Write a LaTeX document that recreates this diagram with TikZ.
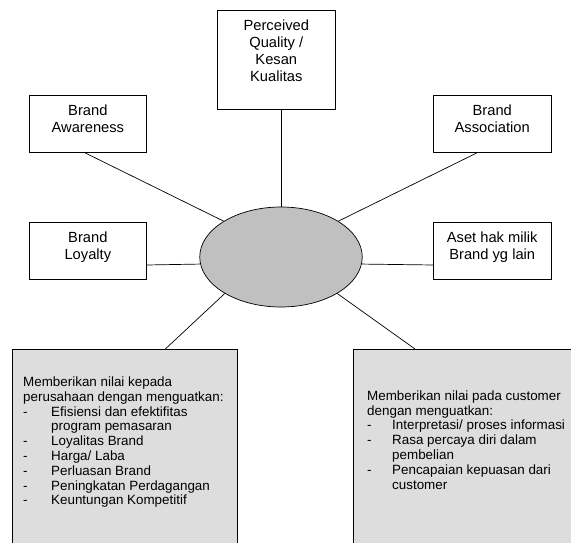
\documentclass[tikz,border=0pt]{standalone}
\usepackage{fontspec}
\setmainfont{Liberation Sans}
\usetikzlibrary{shapes.geometric}
\definecolor{panelgray}{HTML}{DDDDDD}
\definecolor{ellgray}{HTML}{C0C0C0}
\begin{document}
\begin{tikzpicture}[x=1pt,y=1pt,
  box/.style={draw, line width=0.7pt, fill=white, inner sep=0pt, minimum width=117.5pt, minimum height=57pt},
  lbl/.style={align=center, inner sep=0pt, anchor=north, yshift=-10pt, font=\fontsize{14.7}{17}\selectfont},
  con/.style={line width=0.7pt},
  panel/.style={draw, line width=0.7pt, fill=panelgray, inner sep=0pt, minimum width=225pt, minimum height=210pt, anchor=north west},
  ptext/.style={anchor=north west, align=left, inner sep=0pt, font=\fontsize{13.4}{14.8}\selectfont}]
\useasboundingbox (0,0) rectangle (571,543);
\fill[white] (0,0) rectangle (571,543);

\node[box, minimum width=117.3pt, minimum height=98.7pt,
  label={[lbl]north:{Perceived\\Quality /\\Kesan\\Kualitas}}] (q) at (276.3,483.3) {};
\node[box, label={[lbl]north:{Brand\\Awareness}}] (aw) at (87.85,419.5) {};
\node[box, label={[lbl]north:{Brand\\Association}}] (ac) at (492.25,419.5) {};
\node[box, label={[lbl]north:{Brand\\Loyalty}}] (ly) at (87.85,292.5) {};
\node[box, label={[lbl]north:{Aset hak milik\\Brand yg lain}}] (as) at (492.25,292.5) {};

\node[ellipse, draw, line width=0.7pt, fill=ellgray, minimum width=162.5pt, minimum height=100pt, inner sep=0pt] (ell) at (281,286) {};

\node[panel] (bl) at (12,194) {};
\node[panel] (br) at (353,194) {};

\node[ptext] (lt) at (23,166.5) {Memberikan nilai kepada\\
perusahaan dengan menguatkan:\\
\makebox[28pt][l]{-}Efisiensi dan efektifitas\\
\hspace*{28pt}program pemasaran\\
\makebox[28pt][l]{-}Loyalitas Brand\\
\makebox[28pt][l]{-}Harga/ Laba\\
\makebox[28pt][l]{-}Perluasan Brand\\
\makebox[28pt][l]{-}Peningkatan Perdagangan\\
\makebox[28pt][l]{-}Keuntungan Kompetitif};

\node[ptext] (rt) at (367,152.7) {Memberikan nilai pada customer\\
dengan menguatkan:\\
\makebox[25pt][l]{-}Interpretasi/ proses informasi\\
\makebox[25pt][l]{-}Rasa percaya diri dalam\\
\hspace*{25pt}pembelian\\
\makebox[25pt][l]{-}Pencapaian kepuasan dari\\
\hspace*{25pt}customer};

\draw[con] ([xshift=4.7pt]q.south) -- (ell.north);
\draw[con] ([xshift=-3.85pt]aw.south) -- (ell.148);
\draw[con] ([xshift=-14.25pt]ac.south) -- (ell.32);
\draw[con] ([yshift=-14.5pt]ly.east) -- (ell.185.7);
\draw[con] ([yshift=-14.5pt]as.west) -- (ell.-5.7);
\draw[con] (ell.213.7) -- ([xshift=40.5pt]bl.north);
\draw[con] (ell.-33.7) -- ([xshift=62pt]br.north west);
\end{tikzpicture}
\end{document}
